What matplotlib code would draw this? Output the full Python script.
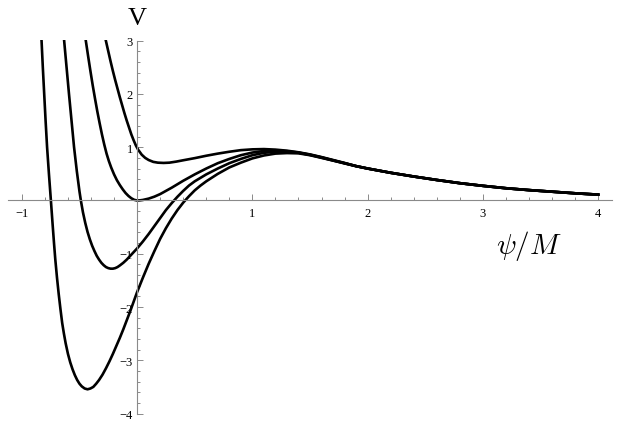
import matplotlib
matplotlib.use("Agg")
import matplotlib.pyplot as plt
from matplotlib.ticker import MultipleLocator, FixedLocator, FuncFormatter

# values (psi/M, V); all four curves share the tail
tail_psi = [1.9, 2.0, 2.2, 2.4, 2.6, 2.8, 3.0, 3.2, 3.4, 3.6, 3.8, 4.0]
tail_v = [0.645, 0.60, 0.52, 0.45, 0.385, 0.325, 0.275, 0.23, 0.195, 0.165, 0.135, 0.11]

c1_psi = [-0.271, -0.25, -0.23, -0.21, -0.19, -0.17, -0.15, -0.13, -0.11, -0.09, -0.07, -0.05,
          -0.03, -0.01, 0.01, 0.04, 0.07, 0.10, 0.14, 0.18, 0.23, 0.28, 0.34, 0.4, 0.5, 0.6,
          0.7, 0.8, 0.9, 1.0, 1.1, 1.2, 1.3, 1.4, 1.5, 1.6, 1.7, 1.8]
c1_v = [3.0, 2.80, 2.61, 2.43, 2.26, 2.10, 1.94, 1.79, 1.64, 1.50, 1.37, 1.24,
        1.13, 1.03, 0.95, 0.86, 0.80, 0.76, 0.725, 0.71, 0.705, 0.71, 0.73, 0.755, 0.795, 0.84,
        0.88, 0.915, 0.945, 0.96, 0.965, 0.955, 0.935, 0.905, 0.865, 0.815, 0.76, 0.705]

c2_psi = [-0.445, -0.425, -0.405, -0.385, -0.365, -0.345, -0.325, -0.305, -0.285, -0.265,
          -0.245, -0.225, -0.2, -0.175, -0.15, -0.125, -0.1, -0.075, -0.05, -0.025, 0.0,
          0.025, 0.05, 0.1, 0.15, 0.2, 0.3, 0.4, 0.5, 0.6, 0.7, 0.8, 0.9, 1.0, 1.1, 1.2,
          1.3, 1.4, 1.5, 1.6, 1.7, 1.8]
c2_v = [3.0, 2.71, 2.43, 2.16, 1.91, 1.67, 1.45, 1.24, 1.05, 0.88,
        0.74, 0.62, 0.49, 0.38, 0.29, 0.21, 0.14, 0.085, 0.042, 0.012, 0.0,
        0.003, 0.01, 0.035, 0.072, 0.12, 0.24, 0.37, 0.49, 0.60, 0.70, 0.78, 0.85, 0.90,
        0.93, 0.935, 0.925, 0.90, 0.86, 0.81, 0.755, 0.70]

c3_psi = [-0.633, -0.612, -0.591, -0.569, -0.547, -0.523, -0.5, -0.488, -0.47, -0.45, -0.43,
          -0.41, -0.39, -0.37, -0.35, -0.33, -0.31, -0.29, -0.27, -0.25, -0.23, -0.21, -0.19,
          -0.17, -0.15, -0.12, -0.09, -0.06, -0.03, 0.0, 0.05, 0.1, 0.15, 0.2, 0.25, 0.3,
          0.35, 0.4, 0.45, 0.5, 0.6, 0.7, 0.8, 0.9, 1.0, 1.1, 1.2, 1.3, 1.4, 1.5, 1.6, 1.7, 1.8]
c3_v = [3.0, 2.5, 2.0, 1.5, 1.0, 0.55, 0.17, 0.0, -0.22, -0.42, -0.59,
        -0.73, -0.85, -0.95, -1.04, -1.11, -1.17, -1.215, -1.25, -1.27, -1.28, -1.28, -1.27,
        -1.25, -1.22, -1.17, -1.11, -1.04, -0.97, -0.9, -0.77, -0.63, -0.48, -0.33, -0.18, -0.05,
        0.07, 0.18, 0.28, 0.36, 0.49, 0.60, 0.70, 0.78, 0.85, 0.895, 0.915, 0.91, 0.895,
        0.855, 0.805, 0.75, 0.70]

c4_psi = [-0.829, -0.818, -0.806, -0.794, -0.781, -0.765, -0.748, -0.733, -0.721, -0.71,
          -0.695, -0.68, -0.665, -0.65, -0.635, -0.62, -0.6, -0.58, -0.56, -0.54, -0.52, -0.5,
          -0.48, -0.455, -0.43, -0.405, -0.38, -0.355, -0.33, -0.3, -0.27, -0.24, -0.21, -0.18,
          -0.15, -0.12, -0.09, -0.06, -0.03, 0.0, 0.05, 0.1, 0.15, 0.2, 0.25, 0.3, 0.35, 0.4,
          0.45, 0.5, 0.55, 0.6, 0.7, 0.8, 0.9, 1.0, 1.1, 1.2, 1.3, 1.4, 1.5, 1.6, 1.7, 1.8]
c4_v = [3.0, 2.5, 2.0, 1.5, 1.0, 0.5, 0.0, -0.45, -0.8, -1.1,
        -1.45, -1.76, -2.04, -2.3, -2.5, -2.68, -2.88, -3.04, -3.17, -3.28, -3.37, -3.44,
        -3.49, -3.53, -3.545, -3.53, -3.50, -3.44, -3.37, -3.27, -3.15, -3.02, -2.88, -2.73,
        -2.58, -2.42, -2.25, -2.08, -1.90, -1.72, -1.45, -1.19, -0.95, -0.72, -0.52, -0.34,
        -0.18, -0.04, 0.08, 0.19, 0.28, 0.36, 0.50, 0.62, 0.71, 0.79, 0.845, 0.88, 0.89, 0.885,
        0.85, 0.80, 0.75, 0.695]

x_major = [-1, 1, 2, 3, 4]
y_major = [-4, -3, -2, -1, 1, 2, 3]

plt.rcParams['mathtext.fontset'] = 'cm'
fig = plt.figure(figsize=(6.21, 4.35), dpi=100)
ax = fig.add_axes([0.0129, 0.0446, 0.9726, 0.862])

for p, v in [(c1_psi, c1_v), (c2_psi, c2_v), (c3_psi, c3_v), (c4_psi, c4_v)]:
    ax.plot(p + tail_psi, v + tail_v, color='black', lw=1.9, solid_joinstyle='round')

ax.set_xlim(-1.12, 4.12)
ax.set_ylim(-4.02, 3.02)

gray = '#8a8a8a'
for s in ['top', 'right']:
    ax.spines[s].set_visible(False)
ax.spines['left'].set_position(('data', 0))
ax.spines['bottom'].set_position(('data', 0))
ax.spines['left'].set_bounds(-4, 3)
for s in ['left', 'bottom']:
    ax.spines[s].set_color(gray)
    ax.spines[s].set_linewidth(0.8)

ax.xaxis.set_major_locator(FixedLocator(x_major))
ax.xaxis.set_minor_locator(MultipleLocator(0.2))
ax.yaxis.set_major_locator(FixedLocator(y_major))
ax.yaxis.set_minor_locator(MultipleLocator(0.2))
fmt = FuncFormatter(lambda t, pos: ('\u2212%d' % -t) if t < 0 else '%d' % t)
ax.xaxis.set_major_formatter(fmt)
ax.yaxis.set_major_formatter(fmt)

ax.tick_params(axis='x', which='both', direction='in', color=gray, width=0.7, pad=5,
               labelsize=9, labelfontfamily='Liberation Serif')
ax.tick_params(axis='y', which='both', direction='in', color=gray, width=0.7, pad=3,
               labelsize=9, labelfontfamily='Liberation Serif')
ax.tick_params(which='major', length=4)
ax.tick_params(which='minor', length=2.5)
ax.patch.set_alpha(0)

ax.text(0.0, 3.42, 'V', fontsize=19, family='Liberation Serif', ha='center', va='center',
        clip_on=False)
ax.text(3.40, -0.84, r'$\psi/M$', fontsize=21, ha='center', va='center')

fig.savefig('out.png', dpi=100)
